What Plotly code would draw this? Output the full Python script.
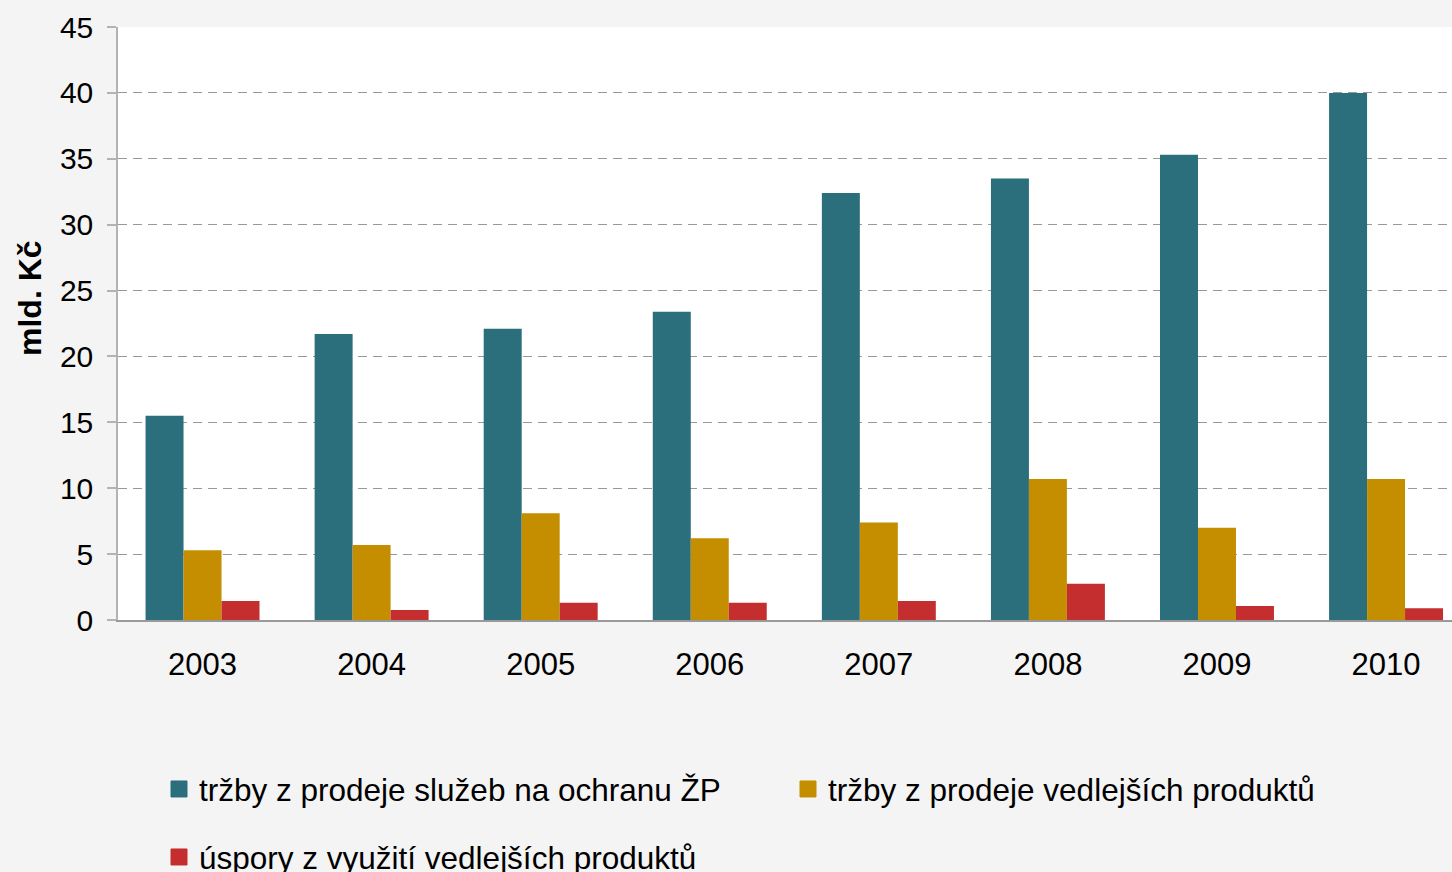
import plotly.graph_objects as go

years = ["2003", "2004", "2005", "2006", "2007", "2008", "2009", "2010"]
sluzby = [15.5, 21.7, 22.1, 23.4, 32.4, 33.5, 35.3, 40.0]
vedlejsi = [5.3, 5.7, 8.1, 6.2, 7.4, 10.7, 7.0, 10.7]
uspory = [1.45, 0.76, 1.3, 1.3, 1.45, 2.75, 1.06, 0.9]

names = ["tržby z prodeje služeb na ochranu ŽP",
         "tržby z prodeje vedlejších produktů",
         "úspory z využití vedlejších produktů"]
colors = ["#2B6E7C", "#C48E00", "#C42E2E"]
series = [sluzby, vedlejsi, uspory]

W, H = 1452, 872
L, R, T, B = 118, 0, 27, 252
pw, ph = W - L - R, H - T - B

def px_x(X):
    return (X - L) / pw

def px_y(Y):
    return (H - B - Y) / ph

FONT = "Liberation Sans, Arial, sans-serif"

fig = go.Figure()
for vals, nm, c in zip(series, names, colors):
    fig.add_trace(go.Bar(x=years, y=vals, name=nm, marker=dict(color=c, line=dict(width=0)),
                         showlegend=False))

legend_ids = ["legend", "legend2", "legend3"]
for nm, c, lid in zip(names, colors, legend_ids):
    fig.add_trace(go.Scatter(x=[None], y=[None], mode="markers", name=nm, legend=lid,
                             marker=dict(symbol="square", size=16, color=c,
                                         line=dict(width=1, color=c))))

leg_pos = [(159, 789), (788, 789), (159, 857)]
legs = {}
for lid, (X, Y) in zip(legend_ids, leg_pos):
    legs[lid] = dict(x=px_x(X), y=px_y(Y), xanchor="left", yanchor="middle",
                     bgcolor="rgba(0,0,0,0)", borderwidth=0,
                     font=dict(family=FONT, size=31.5, color="#000000"),
                     itemsizing="trace")

fig.update_layout(
    width=W, height=H,
    margin=dict(l=L, r=R, t=T, b=B, pad=0, autoexpand=False),
    paper_bgcolor="#f4f4f4",
    plot_bgcolor="#ffffff",
    barmode="group",
    bargap=0.326,
    bargroupgap=0,
    font=dict(family=FONT, size=30, color="#000000"),
    **legs,
)
fig.update_xaxes(
    type="category", range=[-0.5, 7.39],
    showline=True, linecolor="#999999", linewidth=2,
    ticks="", showgrid=False, zeroline=False,
    tickfont=dict(family=FONT, size=31, color="#000000"),
    ticklabelstandoff=16,
)
fig.update_yaxes(
    range=[0, 45], dtick=5, tick0=0,
    showline=True, linecolor="#b3b3b3", linewidth=1.5,
    ticks="outside", ticklen=9, tickcolor="#b3b3b3", tickwidth=1.5,
    showgrid=True, gridcolor="#999999", gridwidth=1, griddash="9px,6px",
    zeroline=False,
    tickfont=dict(family=FONT, size=30, color="#000000"),
    ticklabelstandoff=8,
)
fig.add_annotation(
    text="<b>mld. Kč</b>", xref="paper", yref="paper",
    x=px_x(30), y=px_y(298), xanchor="center", yanchor="middle",
    textangle=-90, showarrow=False,
    font=dict(family=FONT, size=32, color="#000000"),
)

fig.write_html("out.html",
               config={"displayModeBar": False},
               post_script="document.body.style.margin='0';document.body.style.background='#f4f4f4';")
